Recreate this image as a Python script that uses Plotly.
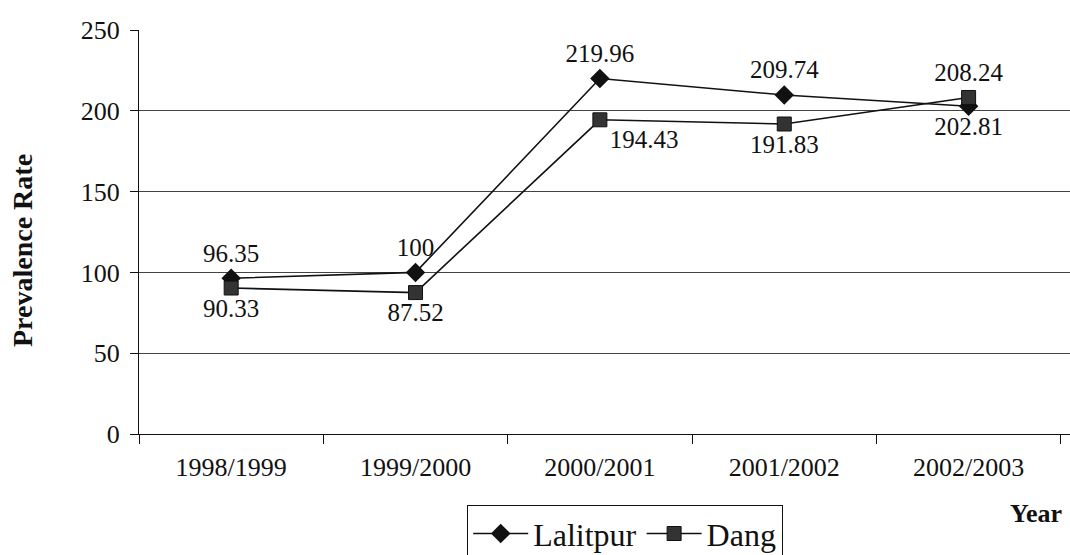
import plotly.graph_objects as go

years = ["1998/1999", "1999/2000", "2000/2001", "2001/2002", "2002/2003"]
lalitpur = [96.35, 100, 219.96, 209.74, 202.81]
dang = [90.33, 87.52, 194.43, 191.83, 208.24]
lalitpur_labels = ["96.35", "100", "219.96", "209.74", "202.81"]
dang_labels = ["90.33", "87.52", "194.43", "191.83", "208.24"]
lalitpur_pos = ["top center", "top center", "top center", "top center", "bottom center"]
dang_pos = ["bottom center", "bottom center", "bottom right", "bottom center", "top center"]

FONT = "Liberation Serif"

fig = go.Figure()
fig.add_trace(go.Scatter(
    x=years, y=lalitpur, name="Lalitpur", mode="lines+markers+text",
    text=lalitpur_labels, textposition=lalitpur_pos,
    textfont=dict(family=FONT, size=25, color="#111"),
    line=dict(color="#111", width=1.6),
    marker=dict(symbol="diamond", size=15, color="#111"),
))
fig.add_trace(go.Scatter(
    x=years, y=dang, name="Dang", mode="lines+markers+text",
    text=dang_labels, textposition=dang_pos,
    textfont=dict(family=FONT, size=25, color="#111"),
    line=dict(color="#111", width=1.6),
    marker=dict(symbol="square", size=14, color="#333", line=dict(color="#111", width=1)),
))

fig.update_layout(
    width=1070, height=555,
    margin=dict(l=139, r=0, t=30, b=121, autoexpand=False),
    paper_bgcolor="white", plot_bgcolor="white",
    font=dict(family=FONT, size=26, color="#111"),
    showlegend=True,
    legend=dict(
        orientation="h", xref="container", yref="container",
        x=467/1070, y=1 - 505/555, xanchor="left", yanchor="top",
        bordercolor="#111", borderwidth=1.2, bgcolor="white",
        font=dict(family=FONT, size=32, color="#111"),
        itemwidth=55, traceorder="normal",
    ),
    xaxis=dict(
        type="category", range=[-0.5, 4.55], tickson="boundaries",
        showline=True, linecolor="#111", linewidth=1.2, automargin=False,
        ticks="outside", ticklen=9, tickcolor="#111", tickwidth=1,
        showgrid=False, ticklabelstandoff=10,
        tickfont=dict(family=FONT, size=26, color="#111"),
    ),
    yaxis=dict(
        range=[0, 250], tickvals=[0, 50, 100, 150, 200, 250],
        showline=True, linecolor="#111", linewidth=1.2, automargin=False,
        ticks="outside", ticklen=8, tickcolor="#111", tickwidth=1,
        showgrid=True, gridcolor="#444", gridwidth=1, zeroline=False,
        ticklabelstandoff=5,
        tickfont=dict(family=FONT, size=26, color="#111"),
    ),
    annotations=[
        dict(text="<b>Prevalence Rate</b>", xref="paper", yref="paper",
             x=(22 - 139) / 931, y=(434 - 251) / 404, textangle=-90,
             showarrow=False, xanchor="center", yanchor="middle",
             font=dict(family=FONT, size=28, color="#111")),
        dict(text="<b>Year</b>", xref="paper", yref="paper",
             x=(1036 - 139) / 931, y=(434 - 513) / 404,
             showarrow=False, xanchor="center", yanchor="middle",
             font=dict(family=FONT, size=26, color="#111")),
    ],
)

fig.write_html("out.html", config={"displayModeBar": False},
               post_script="document.body.style.margin='0';")
